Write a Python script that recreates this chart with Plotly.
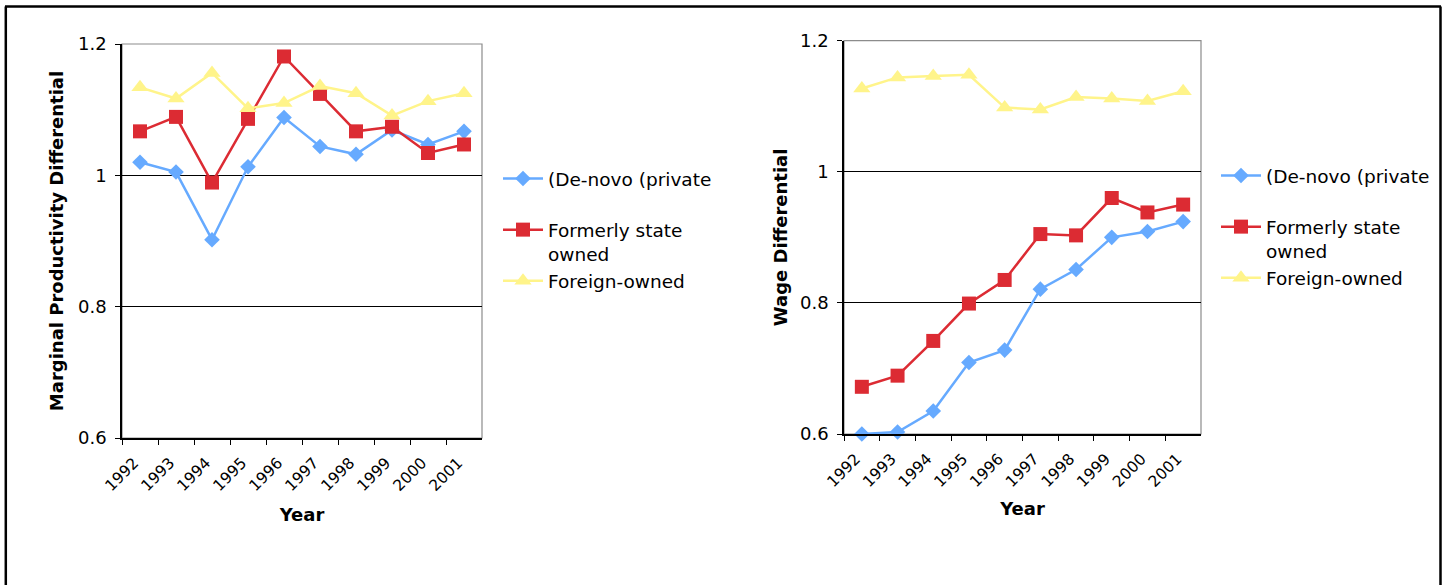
import plotly.graph_objects as go

# Years on the category axis
years = ["1992", "1993", "1994", "1995", "1996", "1997", "1998", "1999", "2000", "2001"]

# Series names shown in the legends
series_names = ["(De-novo (private<br>&nbsp;", "Formerly state<br>owned", "Foreign-owned"]

# Marginal productivity differential by ownership type
mp_denovo = [1.020, 1.005, 0.902, 1.013, 1.088, 1.044, 1.032, 1.069, 1.047, 1.067]
mp_formerly_state = [1.067, 1.089, 0.989, 1.086, 1.181, 1.124, 1.067, 1.074, 1.034, 1.047]
mp_foreign = [1.134, 1.117, 1.156, 1.102, 1.110, 1.136, 1.125, 1.091, 1.113, 1.125]

# Wage differential by ownership type
wage_denovo = [0.600, 0.603, 0.635, 0.709, 0.728, 0.821, 0.851, 0.900, 0.909, 0.924]
wage_formerly_state = [0.672, 0.689, 0.742, 0.799, 0.835, 0.905, 0.903, 0.960, 0.938, 0.950]
wage_foreign = [1.127, 1.144, 1.146, 1.148, 1.098, 1.095, 1.114, 1.112, 1.108, 1.123]

colors = ["#66aaff", "#dc2b33", "#fff48a"]
symbols = ["diamond", "square", "triangle-up"]
sizes = [12, 14, 15]

W, H = 1447, 585
FONT = "DejaVu Sans"

fig = go.Figure()

panels = [
    ("x", "y", "legend", [mp_denovo, mp_formerly_state, mp_foreign]),
    ("x2", "y2", "legend2", [wage_denovo, wage_formerly_state, wage_foreign]),
]
for xa, ya, leg, data in panels:
    for i, vals in enumerate(data):
        fig.add_trace(go.Scatter(
            x=years, y=vals, xaxis=xa, yaxis=ya,
            name=series_names[i], legend=leg, legendgroup=f"{leg}{i}",
            mode="lines+markers",
            line=dict(color=colors[i], width=2.5),
            marker=dict(symbol=symbols[i], size=sizes[i], color=colors[i]),
            cliponaxis=False,
        ))

def px_x(p):
    return p / W

def px_y(p):
    return 1 - p / H

xaxis_common = dict(
    type="category", tickson="boundaries", ticks="outside", ticklen=5,
    tickcolor="black", tickwidth=1, tickangle=-45,
    ticklabelstandoff=8, ticklabelshift=-6,
    tickfont=dict(family=FONT, size=15.5, color="black"),
    showline=True, linecolor="black", linewidth=1.5,
    showgrid=False, zeroline=False, range=[-0.5, 9.5], automargin=False,
)
yaxis_common = dict(
    range=[0.6, 1.2], dtick=0.2, tick0=0.6, ticks="outside", ticklen=5,
    tickcolor="black", tickwidth=1, ticklabelstandoff=5,
    tickfont=dict(family=FONT, size=18, color="black"),
    showline=True, linecolor="black", linewidth=1.5,
    showgrid=True, gridcolor="black", gridwidth=1, zeroline=False, automargin=False,
)
title_font = dict(family=FONT, size=18, color="black")
legend_font = dict(family=FONT, size=18.5, color="black")

fig.update_layout(
    width=W, height=H,
    margin=dict(l=0, r=0, t=0, b=0, autoexpand=False),
    paper_bgcolor="white", plot_bgcolor="white",
    showlegend=True,
    xaxis=dict(xaxis_common, domain=[px_x(122), px_x(482)], anchor="y",
               title=dict(text="<b>Year</b>", font=title_font, standoff=15)),
    yaxis=dict(yaxis_common, domain=[px_y(438), px_y(44)], anchor="x",
               title=dict(text="<b>Marginal Productivity Differential</b>", font=title_font, standoff=10)),
    xaxis2=dict(xaxis_common, domain=[px_x(844), px_x(1201)], anchor="y2",
                title=dict(text="<b>Year</b>", font=title_font, standoff=13)),
    yaxis2=dict(yaxis_common, domain=[px_y(434), px_y(40.7)], anchor="x2",
                title=dict(text="<b>Wage Differential</b>", font=title_font, standoff=8)),
    legend=dict(x=px_x(498), y=px_y(160), xanchor="left", yanchor="top",
                font=legend_font,
                bgcolor="rgba(0,0,0,0)", valign="top", tracegroupgap=0,
                traceorder="grouped", itemwidth=40),
    legend2=dict(x=px_x(1216), y=px_y(157), xanchor="left", yanchor="top",
                 font=legend_font,
                 bgcolor="rgba(0,0,0,0)", valign="top", tracegroupgap=0,
                 traceorder="grouped", itemwidth=40),
)

# Plot-area borders (grey) and the outer frame (black, open at the bottom)
shapes = []
for xd, yd in [("x domain", "y domain"), ("x2 domain", "y2 domain")]:
    shapes.append(dict(type="rect", xref=xd, yref=yd, x0=0, x1=1, y0=0, y1=1,
                       line=dict(color="#8c8c8c", width=1.2), layer="below"))
frame = dict(color="black", width=2.5)
shapes.append(dict(type="line", xref="paper", yref="paper",
                   x0=px_x(5), x1=px_x(1441), y0=px_y(6.5), y1=px_y(6.5), line=frame))
shapes.append(dict(type="line", xref="paper", yref="paper",
                   x0=px_x(5.8), x1=px_x(5.8), y0=0, y1=px_y(6.5), line=frame))
shapes.append(dict(type="line", xref="paper", yref="paper",
                   x0=px_x(1440.5), x1=px_x(1440.5), y0=0, y1=px_y(6.5), line=frame))
fig.update_layout(shapes=shapes)

# Page body without the default margin so the figure fills the window
fig.write_html("out.html", post_script="document.body.style.margin='0px';")
